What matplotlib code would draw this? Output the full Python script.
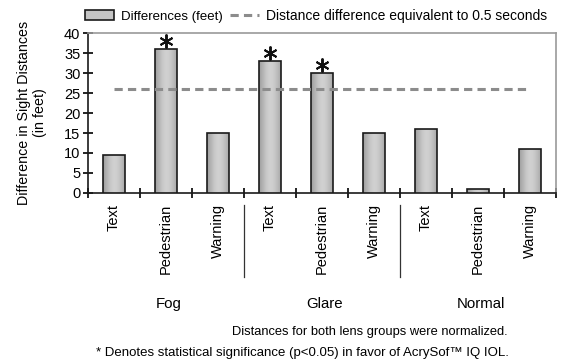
import numpy as np
import matplotlib
matplotlib.use("Agg")
import matplotlib.pyplot as plt
from matplotlib.patches import Patch
from matplotlib.lines import Line2D

plt.rcParams['font.family'] = ['Liberation Sans', 'DejaVu Sans']

groups = ["Fog", "Glare", "Normal"]
tasks = ["Text", "Pedestrian", "Warning"]
differences = [9.5, 36, 15, 33, 30, 15, 16, 1, 11]
significant = [False, True, False, True, True, False, False, False, False]
threshold = 26

labels = tasks * len(groups)
x = np.arange(len(differences))

fig = plt.figure(figsize=(5.65, 3.64), dpi=100)
ax = fig.add_axes([0.1558, 0.4698, 0.8282, 0.4395])

bars = ax.bar(x, differences, width=0.42, color="#c4c4c4", edgecolor="#1a1a1a",
              linewidth=1.2, zorder=3)

# horizontal gradient inside each bar
grad = np.array([0.62, 0.70, 0.78, 0.82, 0.80, 0.74, 0.66])
grad = np.interp(np.linspace(0, 1, 60), np.linspace(0, 1, len(grad)), grad)
for b in bars:
    x0, w, h = b.get_x(), b.get_width(), b.get_height()
    im = ax.imshow(grad[np.newaxis, :], cmap="gray", vmin=0, vmax=1,
                   extent=(x0, x0 + w, 0, h), aspect="auto", zorder=3.5,
                   interpolation="bicubic")
    im.set_clip_path(b)
    b.set_facecolor("none")
    b.set_zorder(4)

ax.plot([x[0], x[-1]], [threshold, threshold], color="#8c8c8c", lw=2.2,
        dashes=(2.7, 1.7), zorder=5)

sig_x = [xi for xi, s in zip(x, significant) if s]
sig_y = [v + 1.9 for v, s in zip(differences, significant) if s]
ax.plot(sig_x, sig_y, linestyle="none", marker=(6, 2, 0), markersize=10,
        markeredgewidth=1.4, color="#111111", zorder=6, clip_on=False)

ax.set_xlim(-0.5, len(differences) - 0.5)
ax.set_ylim(0, 40)
ax.set_yticks(np.arange(0, 41, 5))
ax.tick_params(axis="y", direction="inout", length=7, width=1.2, labelsize=10.5, pad=2)
ax.set_xticks(x)
ax.set_xticklabels(labels, rotation=90, fontsize=10.5, va="top")
ax.tick_params(axis="x", which="major", length=0, pad=8)
ax.set_xticks(np.arange(-0.5, len(differences), 1), minor=True)
ax.tick_params(axis="x", which="minor", direction="inout", length=7, width=1.2)

for side in ["top", "right"]:
    ax.spines[side].set_color("#999999")
    ax.spines[side].set_linewidth(1.2)
for side in ["left", "bottom"]:
    ax.spines[side].set_color("#1a1a1a")
    ax.spines[side].set_linewidth(1.2)

fig.text(32 / 565, 1 - 113 / 364, "Difference in Sight Distances\n(in feet)",
         rotation=90, ha="center", va="center", multialignment="center",
         fontsize=10.3, linespacing=1.1)

# separators between condition groups
for b in [2.5, 5.5]:
    ax.plot([b, b], [-3, -21], color="#333333", lw=0.9, clip_on=False)

for i, g in enumerate(groups):
    ax.text(i * 3 + 1.05, -27.8, g, ha="center", va="center", fontsize=10.8)

fig.text(370 / 565, 1 - 332 / 364, "Distances for both lens groups were normalized.",
         ha="center", va="center", fontsize=9.3)
fig.text(302 / 565, 1 - 353 / 364,
         "* Denotes statistical significance (p<0.05) in favor of AcrySof\u2122 IQ IOL.",
         ha="center", va="center", fontsize=9.5)

handles = [Patch(facecolor="#c4c4c4", edgecolor="#1a1a1a", linewidth=1.2),
           Line2D([], [], color="#8c8c8c", lw=2.2, dashes=(2.7, 1.7))]
leg = fig.legend(handles, ["Differences (feet)", "Distance difference equivalent to 0.5 seconds"],
                 loc="center left", bbox_to_anchor=(85 / 565, 1 - 16 / 364), ncol=2,
                 frameon=False, fontsize=9.5, handlelength=2.2, handleheight=0.8,
                 handletextpad=0.5, columnspacing=0.6, borderaxespad=0, borderpad=0)
leg.get_texts()[1].set_fontsize(10)

fig.savefig("out.png", dpi=100)
